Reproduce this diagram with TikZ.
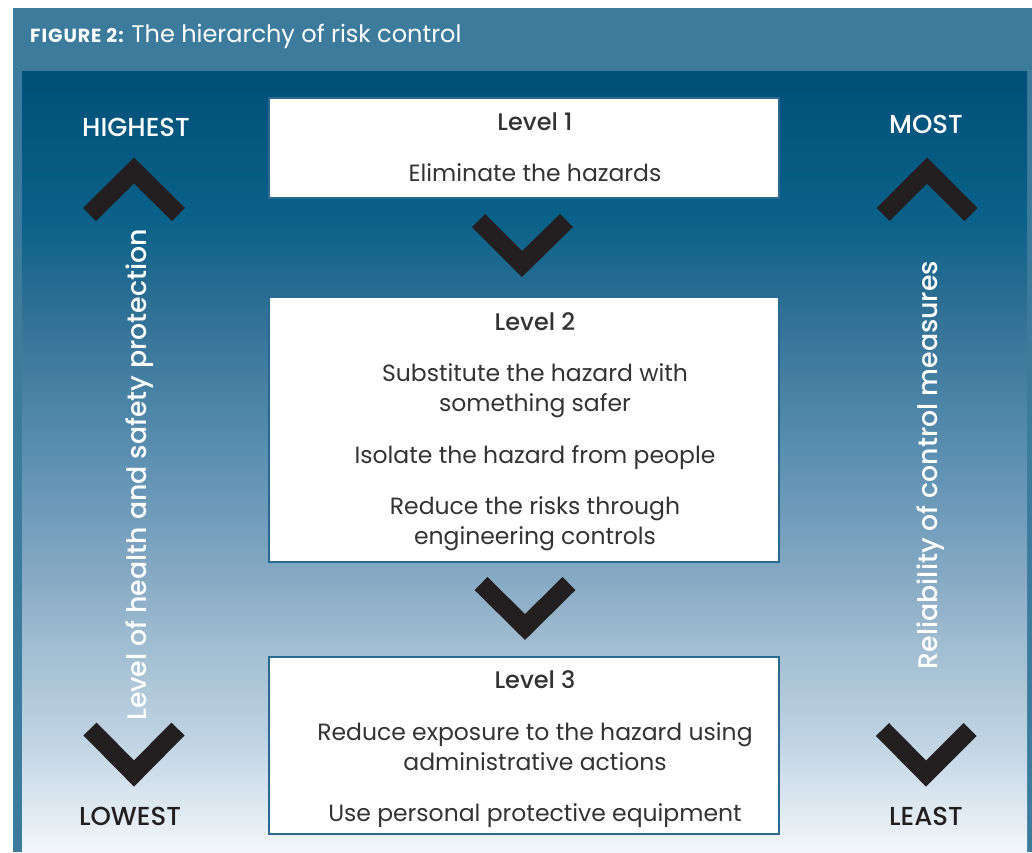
\documentclass[tikz,border=0pt]{standalone}
\usepackage{fontspec}
\setmainfont{Poppins}[BoldFont={Poppins Medium}]
\newfontfamily\figfont{Poppins}[LetterSpace=5]
\definecolor{frame}{HTML}{3C7B9C}
\definecolor{boxline}{HTML}{2A6A90}
\definecolor{ink}{HTML}{333333}
\definecolor{chev}{HTML}{231F20}
\definecolor{g0}{HTML}{F2F6FA}
\definecolor{g1}{HTML}{BDD2E2}
\definecolor{g2}{HTML}{A2BED2}
\definecolor{g3}{HTML}{84A8C3}
\definecolor{g4}{HTML}{5B8FB1}
\definecolor{g5}{HTML}{2B6D92}
\definecolor{g6}{HTML}{0A6189}
\definecolor{g7}{HTML}{005078}
\pgfdeclareverticalshading{panelshade}{100bp}{color(0bp)=(g0); color(25bp)=(g0); color(32.5bp)=(g1); color(38bp)=(g2); color(43bp)=(g3); color(50.5bp)=(g4); color(60.5bp)=(g5); color(65.5bp)=(g6); color(75bp)=(g7); color(100bp)=(g7)}
\tikzset{
  chevron/.style={draw=chev, line width=18.4pt, line join=miter, line cap=butt},
  levelbox/.style={draw=boxline, line width=1.4pt, fill=white},
  boxtext/.style={text=ink, font=\fontsize{23.5}{29.5}\selectfont, align=center, anchor=base, inner sep=0pt},
  leveltitle/.style={text=ink, font=\fontsize{24}{28}\selectfont\bfseries, anchor=base, inner sep=0pt},
  sidelabel/.style={font=\fontsize{26}{30}\selectfont\bfseries, anchor=base, inner sep=0pt},
  sidetext/.style={text=white, font=\fontsize{26.8}{30}\selectfont\bfseries, anchor=base, inner sep=0pt, rotate=90},
}
\begin{document}
\begin{tikzpicture}[x=1pt, y=-1pt]
\useasboundingbox (0,0) rectangle (1032,852);
\fill[white] (0,0) rectangle (1032,852);
% frame and header
\fill[frame] (13,8) rectangle (1032,852);
\shade[shading=panelshade] (22,71) rectangle (1027,852);
\node[anchor=base west, inner sep=0pt, text=white] (title) at (30,42)
  {{\figfont\bfseries\fontsize{19}{22}\selectfont FIGURE 2:}\hspace{8pt}{\fontsize{24}{28}\selectfont The hierarchy of risk control}};
% boxes
\draw[levelbox] (269,98) rectangle (779,198);
\draw[levelbox] (269,297) rectangle (779,562);
\draw[levelbox] (269,657) rectangle (779,834);
% level 1
\node[leveltitle] (l1) at (535,130) {Level 1};
\node[boxtext] (l1a) at (535,181) {Eliminate the hazards};
% level 2
\node[leveltitle] (l2) at (535,330) {Level 2};
\node[boxtext] (l2a) at (535,411) {Substitute the hazard with\\something safer};
\node[boxtext] (l2b) at (535,463) {Isolate the hazard from people};
\node[boxtext] (l2c) at (535,544) {Reduce the risks through\\engineering controls};
% level 3
\node[leveltitle] (l3) at (535,688) {Level 3};
\node[boxtext] (l3a) at (535,770) {Reduce exposure to the hazard using\\administrative actions};
\node[boxtext] (l3b) at (535,821) {Use personal protective equipment};
% middle chevrons
\coordinate (m1a) at (478.5,220.5); \coordinate (m1b) at (522,264); \coordinate (m1c) at (566.5,220.5);
\draw[chevron] (m1a) -- (m1b) -- (m1c);
\coordinate (m2a) at (481,583.5); \coordinate (m2b) at (525,627); \coordinate (m2c) at (569,583.5);
\draw[chevron] (m2a) -- (m2b) -- (m2c);
% left side
\node[sidelabel, text=white] (hi) at (136,136) {HIGHEST};
\coordinate (lu1) at (89.5,214.5); \coordinate (lu2) at (134,170.5); \coordinate (lu3) at (178.5,214.5);
\draw[chevron] (lu1) -- (lu2) -- (lu3);
\node[sidetext] (lefttxt) at (146,475) {Level of health and safety protection};
\coordinate (ld1) at (90,729); \coordinate (ld2) at (134,773.5); \coordinate (ld3) at (178,729);
\draw[chevron] (ld1) -- (ld2) -- (ld3);
\node[sidelabel, text=chev] (lo) at (130,825) {LOWEST};
% right side
\node[sidelabel, text=white] (most) at (926,133) {MOST};
\coordinate (ru1) at (883,214.5); \coordinate (ru2) at (927,170.5); \coordinate (ru3) at (971,214.5);
\draw[chevron] (ru1) -- (ru2) -- (ru3);
\node[sidetext] (righttxt) at (937,465) {Reliability of control measures};
\coordinate (rd1) at (882.5,729.5); \coordinate (rd2) at (926,773.5); \coordinate (rd3) at (970,729.5);
\draw[chevron] (rd1) -- (rd2) -- (rd3);
\node[sidelabel, text=chev] (least) at (926,825) {LEAST};
\end{tikzpicture}
\end{document}
